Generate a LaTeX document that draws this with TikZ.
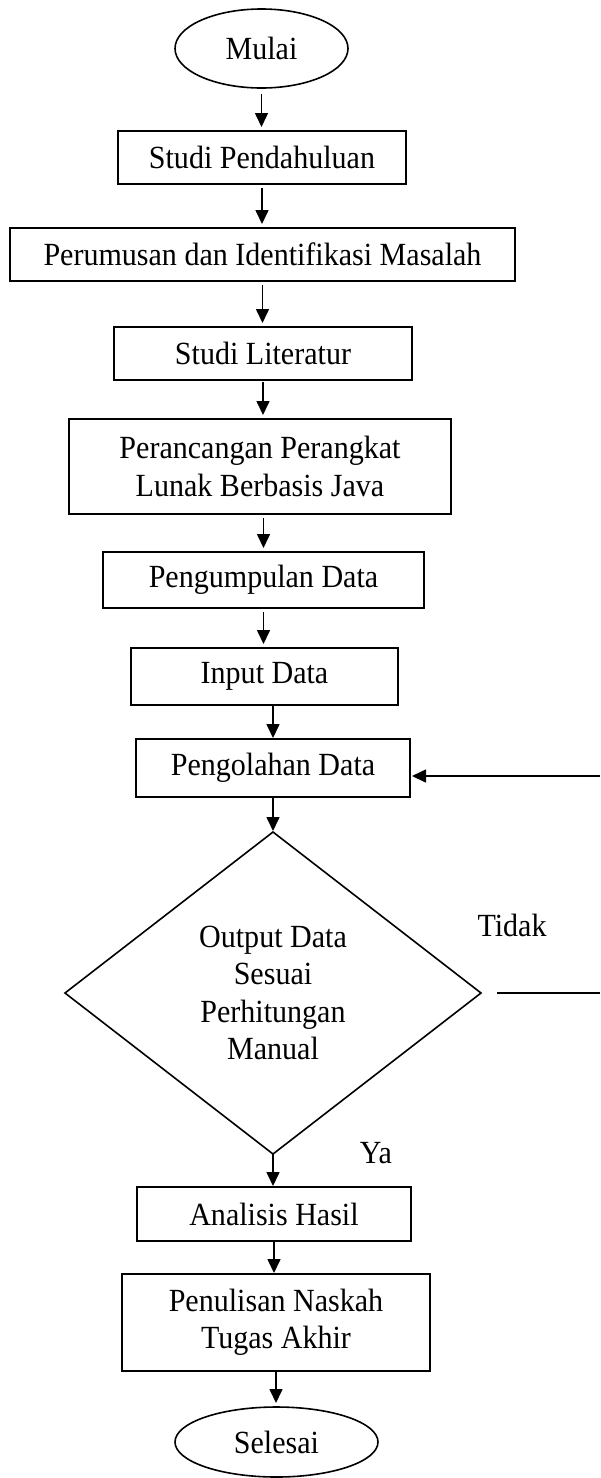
\documentclass[tikz,border=0pt]{standalone}
\usepackage{fontspec}
\setmainfont{Liberation Serif}[FakeStretch=0.93]
\usetikzlibrary{shapes.geometric,arrows.meta}
\begin{document}
\begin{tikzpicture}[x=1pt,y=-1pt,
  every node/.style={font=\fontsize{32.3}{37.5}\selectfont, inner sep=0pt, outer sep=0pt},
  box/.style={draw, rectangle, line width=1.6pt, align=center},
  term/.style={draw, ellipse, line width=1.6pt},
  dec/.style={draw, diamond, line width=1.6pt, align=center},
  arr/.style={-{Triangle[length=14pt,width=13pt]}, line width=1.6pt, shorten <=4pt, shorten >=4pt},
  plain/.style={line width=1.6pt}
]
\path[use as bounding box] (0,0) rectangle (600,1478);

\node[term, minimum width=173pt, minimum height=79pt] (mulai) at (261.5,48.5) {Mulai};
\node[box, minimum width=288pt, minimum height=53pt] (sp) at (262,157.5) {Studi Pendahuluan};
\node[box, minimum width=505pt, minimum height=53pt] (pim) at (262.5,254.5) {Perumusan dan Identifikasi Masalah};
\node[box, minimum width=298pt, minimum height=53pt] (sl) at (263,353.5) {Studi Literatur};
\node[box, minimum width=382pt, minimum height=95pt] (pp) at (260,466.5) {Perancangan Perangkat\\Lunak Berbasis Java};
\node[box, minimum width=321pt, minimum height=56pt] (pd) at (263.5,580) {Pengumpulan Data};
\node[box, minimum width=267pt, minimum height=57pt] (id) at (264.5,676.5) {Input Data};
\node[box, minimum width=274pt, minimum height=58pt] (pgd) at (273,768) {Pengolahan Data};
\node[dec, minimum width=416pt, minimum height=322pt] (dia) at (273,993) {Output Data\\Sesuai\\Perhitungan\\Manual};
\node[box, minimum width=274pt, minimum height=54pt] (ah) at (274,1214) {Analisis Hasil};
\node[box, minimum width=308pt, minimum height=97pt] (pn) at (276,1322.5) {Penulisan Naskah\\Tugas Akhir};
\node[term, minimum width=203pt, minimum height=70pt] (sel) at (276.5,1442) {Selesai};
\node (tidak) at (512,925) {Tidak};
\node (ya) at (376,1153) {Ya};

\coordinate (rin) at (600,776);
\coordinate (rout) at (600,993);

\draw[arr, shorten <=6pt] (mulai.south) -- (mulai.south |- sp.north);
\draw[arr] (sp.south) -- (sp.south |- pim.north);
\draw[arr] (pim.south) -- (pim.south |- sl.north);
\draw[arr, shorten <=2pt] (sl.south) -- (sl.south |- pp.north);
\draw[arr] (pd.north |- pp.south) -- (pd.north);
\draw[arr] (pd.south) -- (pd.south |- id.north);
\draw[arr, shorten <=1pt, shorten >=1pt] (pgd.north |- id.south) -- (pgd.north);
\draw[arr, shorten <=0pt, shorten >=1pt] (pgd.south) -- (pgd.south -| dia.north) -- (dia.north);
\draw[arr, shorten <=0pt, shorten >=1pt] (dia.south) -- (dia.south |- ah.north);
\draw[arr, shorten <=1pt, shorten >=1pt] (ah.south) -- (ah.south |- pn.north);
\draw[arr, shorten <=1pt] (pn.south) -- (pn.south |- sel.north);
\draw[arr, shorten <=0pt, shorten >=2pt] (rin) -- (rin -| pgd.east);
\draw[plain, shorten <=16pt] (dia.east) -- (rout);
\end{tikzpicture}
\end{document}
